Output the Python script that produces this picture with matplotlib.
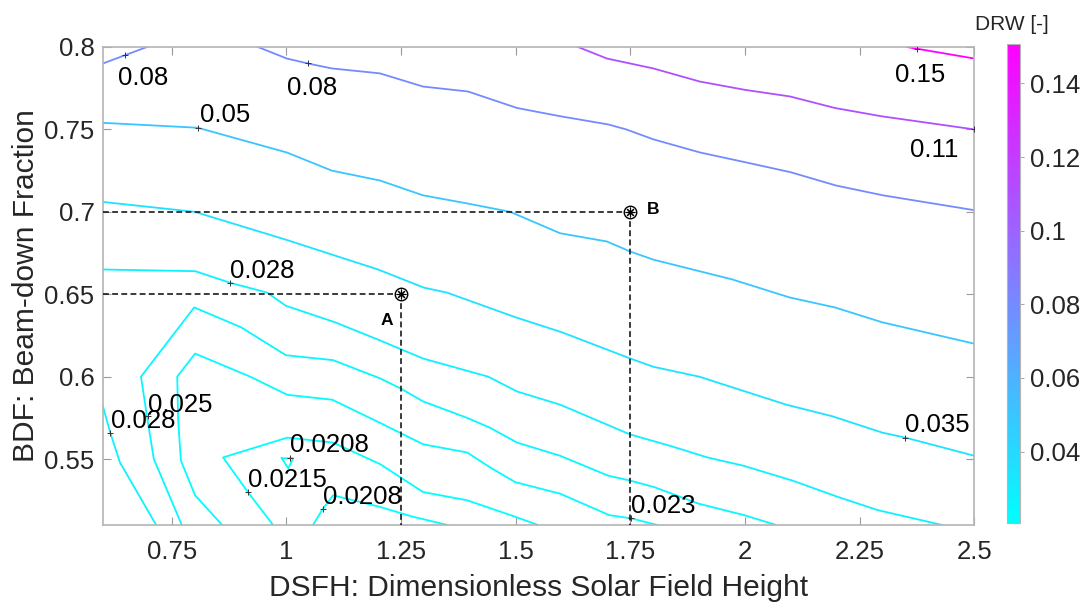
import numpy as np
import matplotlib as mpl
import matplotlib.pyplot as plt
from matplotlib.ticker import FuncFormatter

plt.rcParams['font.family'] = ['Liberation Sans', 'DejaVu Sans']

# DRW iso-lines: x = DSFH, y = BDF
x_015 = [2.353, 2.50]
y_015 = [0.800, 0.793]

x_011 = [1.636, 1.699, 1.800, 1.902, 2.000, 2.098, 2.196, 2.297, 2.50]
y_011 = [0.800, 0.793, 0.787, 0.779, 0.774, 0.770, 0.763, 0.758, 0.750]

x_008a = [0.600, 0.648, 0.696]
y_008a = [0.790, 0.795, 0.800]

x_008b = [0.938, 1.001, 1.047, 1.099, 1.204, 1.298, 1.396, 1.503, 1.597,
          1.702, 1.741, 1.800, 1.902, 2.002, 2.100, 2.198, 2.301, 2.50]
y_008b = [0.800, 0.793, 0.790, 0.787, 0.784, 0.776, 0.773, 0.763, 0.758,
          0.753, 0.750, 0.744, 0.736, 0.730, 0.724, 0.716, 0.710, 0.701]

x_005 = [0.600, 0.807, 1.001, 1.099, 1.204, 1.298, 1.396, 1.488, 1.597,
         1.699, 1.749, 1.800, 1.972, 2.098, 2.196, 2.299, 2.50]
y_005 = [0.754, 0.751, 0.736, 0.725, 0.719, 0.710, 0.705, 0.700, 0.687,
         0.682, 0.676, 0.671, 0.659, 0.648, 0.642, 0.633, 0.620]

x_0035 = [0.60, 0.80, 1.00, 1.10, 1.20, 1.30, 1.35, 1.44, 1.50,
          1.60, 1.75, 1.80, 1.90, 2.09, 2.19, 2.30, 2.35, 2.50]
y_0035 = [0.706, 0.700, 0.683, 0.674, 0.665, 0.654, 0.651, 0.642, 0.636,
          0.627, 0.611, 0.606, 0.600, 0.583, 0.576, 0.566, 0.563, 0.552]

x_0028a = [0.600, 0.801, 0.877, 0.958, 0.999, 1.106, 1.204, 1.298, 1.440, 1.503,
           1.597, 1.749, 1.837, 1.918, 1.996, 2.103, 2.203, 2.290, 2.430]
y_0028a = [0.665, 0.664, 0.657, 0.651, 0.643, 0.633, 0.622, 0.611, 0.600, 0.591,
           0.583, 0.565, 0.558, 0.551, 0.546, 0.537, 0.527, 0.519, 0.510]

x_0028b = [0.600, 0.616, 0.637, 0.716]
y_0028b = [0.582, 0.566, 0.548, 0.510]

x_0025 = [0.772, 0.711, 0.696, 0.683, 0.799, 0.901, 0.999, 1.102, 1.204, 1.248, 1.298,
          1.394, 1.444, 1.503, 1.597, 1.701, 1.749, 1.802, 1.898, 1.998, 2.068]
y_0025 = [0.510, 0.550, 0.576, 0.600, 0.642, 0.630, 0.613, 0.610, 0.599, 0.593, 0.585,
          0.575, 0.569, 0.560, 0.552, 0.540, 0.537, 0.533, 0.523, 0.516, 0.510]

x_0023 = [0.860, 0.801, 0.770, 0.764, 0.762, 0.801, 0.921, 1.002, 1.100,
          1.204, 1.298, 1.394, 1.444, 1.499, 1.597, 1.704, 1.752, 1.809]
y_0023 = [0.510, 0.528, 0.549, 0.574, 0.600, 0.614, 0.600, 0.589, 0.586,
          0.572, 0.559, 0.554, 0.545, 0.536, 0.529, 0.516, 0.514, 0.510]

x_00215 = [0.971, 0.916, 0.862, 1.002, 1.102, 1.204, 1.298, 1.394, 1.499, 1.549]
y_00215 = [0.510, 0.530, 0.551, 0.563, 0.560, 0.547, 0.530, 0.525, 0.515, 0.510]

x_00208a = [1.058, 1.080, 1.102, 1.204, 1.276, 1.352]
y_00208a = [0.510, 0.520, 0.528, 0.521, 0.515, 0.510]

x_00208b = [0.990, 1.015, 1.004, 0.990]
y_00208b = [0.5505, 0.5505, 0.5444, 0.5505]

# contour labels: text, "+" position, text position
label_text = ['0.08', '0.08', '0.05', '0.15', '0.11', '0.028', '0.035',
              '0.025', '0.028', '0.0208', '0.0215', '0.0208', '0.023']
label_x = [0.648, 1.047, 0.807, 2.375, 2.50, 0.877, 2.349,
           0.698, 0.616, 1.008, 0.916, 1.080, 1.752]
label_y = [0.795, 0.790, 0.751, 0.799, 0.750, 0.657, 0.563,
           0.576, 0.566, 0.5509, 0.530, 0.520, 0.514]
text_x = [0.633, 1.001, 0.812, 2.327, 2.360, 0.877, 2.349,
          0.699, 0.618, 1.008, 0.917, 1.080, 1.752]
text_y = [0.777, 0.771, 0.7545, 0.779, 0.733, 0.660, 0.5664,
          0.5786, 0.569, 0.5543, 0.533, 0.523, 0.517]

# design points
point_name = ['A', 'B']
point_dsfh = [1.25, 1.75]
point_bdf = [0.65, 0.70]
point_tx = [1.219, 1.800]
point_ty = [0.634, 0.7017]

lines = [(0.15, x_015, y_015), (0.11, x_011, y_011),
         (0.08, x_008a, y_008a), (0.08, x_008b, y_008b),
         (0.05, x_005, y_005), (0.035, x_0035, y_0035),
         (0.028, x_0028a, y_0028a), (0.028, x_0028b, y_0028b),
         (0.025, x_0025, y_0025), (0.023, x_0023, y_0023),
         (0.0215, x_00215, y_00215),
         (0.0208, x_00208a, y_00208a), (0.0208, x_00208b, y_00208b)]

fig = plt.figure(figsize=(10.8, 6.04), dpi=100)
ax = fig.add_axes([0.0953, 0.1308, 0.8068, 0.7914])

cmap = plt.get_cmap('cool')
norm = mpl.colors.Normalize(vmin=0.0206, vmax=0.1507)

for lev, xs, ys in lines:
    ax.plot(xs, ys, color=cmap(norm(lev)), lw=1.3, zorder=2)

ax.plot(label_x, label_y, ls='none', marker='+', ms=4, mew=0.7, color='#333333', zorder=3)
for t, tx, ty in zip(label_text, text_x, text_y):
    ax.text(tx, ty, t, fontsize=18.5, color='black', ha='left', va='baseline', zorder=4)

for name, px, py, tx, ty in zip(point_name, point_dsfh, point_bdf, point_tx, point_ty):
    ax.plot([0.6, px], [py, py], color='#1a1a1a', lw=1.2, dashes=(3.5, 2), zorder=3)
    ax.plot([px, px], [py, 0.51], color='#1a1a1a', lw=1.2, dashes=(3.5, 2), zorder=3)
    ax.plot(px, py, marker='o', ms=9, mfc='white', mec='black', mew=1.0, zorder=5)
    ax.plot(px, py, marker=(8, 2, 0), ms=7, color='black', mew=0.8, zorder=6)
    ax.text(tx, ty, name, fontsize=12.5, fontweight='bold', ha='center', va='center')

ax.set_xlim(0.6, 2.5)
ax.set_ylim(0.51, 0.8)
ax.set_xticks([0.75, 1, 1.25, 1.5, 1.75, 2, 2.25, 2.5])
ax.set_yticks([0.55, 0.6, 0.65, 0.7, 0.75, 0.8])
fmt = FuncFormatter(lambda v, p: '%g' % v)
ax.xaxis.set_major_formatter(fmt)
ax.yaxis.set_major_formatter(fmt)
ax.tick_params(direction='in', length=6, width=0.8, color='#9a9a9a',
               labelsize=18.5, labelcolor='#262626', top=True, right=True)
ax.tick_params(axis='x', pad=11)
ax.tick_params(axis='y', pad=6)
for s in ax.spines.values():
    s.set_color('#b4b4b4')
    s.set_linewidth(1.2)

ax.set_xlabel('DSFH: Dimensionless Solar Field Height', fontsize=21.5,
              color='#262626', labelpad=7)
ax.set_ylabel('BDF: Beam-down Fraction', fontsize=21.5, color='#262626', labelpad=3)

cax = fig.add_axes([0.9321, 0.1341, 0.0123, 0.793])
cb = mpl.colorbar.ColorbarBase(cax, cmap=cmap, norm=norm)
cb.set_ticks([0.04, 0.06, 0.08, 0.1, 0.12, 0.14])
cb.ax.yaxis.set_major_formatter(fmt)
cb.ax.tick_params(direction='out', length=3, width=0.6, color='#9a9a9a',
                  labelsize=18.5, labelcolor='#262626', pad=4)
cb.outline.set_edgecolor('#b4b4b4')
cb.outline.set_linewidth(0.8)
fig.text(1012 / 1080, 1 - 30 / 604, 'DRW [-]', fontsize=15, color='#262626',
         ha='center', va='baseline')

fig.savefig('out.png', dpi=100)
